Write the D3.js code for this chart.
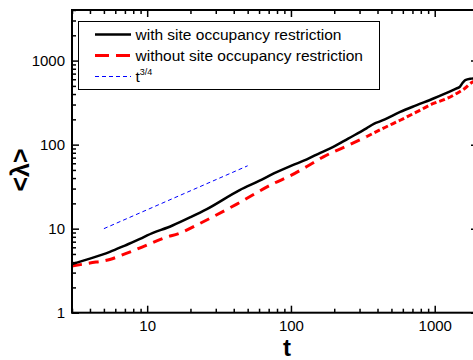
<!DOCTYPE html>
<html>
<head>
<meta charset="utf-8">
<style>
    body { margin: 0; background: #fff; }
    svg { display: block; font-family: Arial, 'Liberation Sans', sans-serif; }
    .tick text { font-size: 15px; fill: #000; }
    .legend text { font-size: 15.5px; }
</style>
</head>
<body>
<svg width="473" height="360"></svg>
<script src="https://d3js.org/d3.v7.min.js"></script>
<script>
    // with site occupancy restriction (solid black)
    let tWith   = [3, 4, 5.5, 7, 9, 10, 15, 20, 26, 44, 60, 76, 100, 129, 160, 197, 250, 335, 380, 420, 450, 575, 750, 980, 1200, 1420, 1500, 1560, 1630, 1800, 2000];
    let lamWith = [3.8, 4.4, 5.3, 6.3, 7.6, 8.3, 10.9, 13.7, 17.1, 28.8, 37, 45.4, 56, 66.7, 80, 94, 118, 156, 178, 190, 200, 245, 295, 354, 410, 466, 490, 540, 585, 610, 620];

    // without site occupancy restriction (red dashed), early and late part
    let tWithout   = [3, 4, 5.5, 7, 10, 13, 17, 23.4, 42, 76, 100, 129, 168, 250, 335];
    let lamWithout = [3.6, 3.9, 4.3, 5.0, 6.4, 7.7, 8.9, 11.6, 19.6, 34.6, 43, 55, 71.6, 98, 124];
    let tWithoutLate   = [335, 450, 575, 750, 980, 1200, 1420, 1600, 1840, 2000];
    let lamWithoutLate = [124, 160, 195, 245, 309, 350, 406, 460, 558, 580];

    // t^{3/4} guide
    let tGuide   = [5, 50];
    let lamGuide = [10, 56];

    let xMajor = [10, 100, 1000];
    let yMajor = [1, 10, 100, 1000];

    let mLeft = 72, mRight = 478, mTop = 10, mBottom = 312.7;

    let svg = d3.select("svg");

    let x = d3.scaleLog().domain([3, 2000]).range([mLeft, mRight]);
    let y = d3.scaleLog().domain([1, 4000]).range([mBottom, mTop]);

    // minor ticks (2..9 of each decade)
    let xMinor = x.ticks().filter(v => xMajor.indexOf(v) < 0);
    let yMinor = y.ticks().filter(v => yMajor.indexOf(v) < 0);

    let line = d3.line().x(d => x(d[0])).y(d => y(d[1])).curve(d3.curveMonotoneX);

    let plot = svg.append("g");

    plot.append("path")
        .attr("d", line(tGuide.map((t, i) => [t, lamGuide[i]])))
        .style("fill", "none")
        .style("stroke", "#0000ff")
        .style("stroke-width", 1)
        .style("stroke-dasharray", "4,3")

    plot.append("path")
        .attr("d", line(tWithout.map((t, i) => [t, lamWithout[i]])))
        .style("fill", "none")
        .style("stroke", "#ff0000")
        .style("stroke-width", 3)
        .style("stroke-dasharray", "10,7")

    // dense data at late times -> dashes run together
    plot.append("path")
        .attr("d", line(tWithoutLate.map((t, i) => [t, lamWithoutLate[i]])))
        .style("fill", "none")
        .style("stroke", "#ff0000")
        .style("stroke-width", 3)
        .style("stroke-dasharray", "6,3")

    plot.append("path")
        .attr("d", line(tWith.map((t, i) => [t, lamWith[i]])))
        .style("fill", "none")
        .style("stroke", "#000")
        .style("stroke-width", 2.5)

    // axes, ticks pointing inward
    function styleAxis(g) {
        g.select(".domain").remove();
        g.selectAll(".tick line").style("stroke", "#000").style("stroke-width", 1.5);
    }

    svg.append("g").attr("transform", `translate(0,${mBottom})`)
        .call(d3.axisBottom(x).tickValues(xMajor).tickSize(-7).tickFormat(d3.format("d")))
        .call(styleAxis)
        .selectAll("text").attr("y", 8).attr("dy", "0.71em");
    svg.append("g").attr("transform", `translate(0,${mBottom})`)
        .call(d3.axisBottom(x).tickValues(xMinor).tickSize(-4).tickFormat(""))
        .call(styleAxis);
    svg.append("g").attr("transform", `translate(0,${mTop})`)
        .call(d3.axisTop(x).tickValues(xMajor).tickSize(-7).tickFormat(""))
        .call(styleAxis);
    svg.append("g").attr("transform", `translate(0,${mTop})`)
        .call(d3.axisTop(x).tickValues(xMinor).tickSize(-4).tickFormat(""))
        .call(styleAxis);

    svg.append("g").attr("transform", `translate(${mLeft},0)`)
        .call(d3.axisLeft(y).tickValues(yMajor).tickSize(-7).tickFormat(d3.format("d")))
        .call(styleAxis)
        .selectAll("text").attr("x", -7);
    svg.append("g").attr("transform", `translate(${mLeft},0)`)
        .call(d3.axisLeft(y).tickValues(yMinor).tickSize(-4).tickFormat(""))
        .call(styleAxis);
    svg.append("g").attr("transform", `translate(${mRight},0)`)
        .call(d3.axisRight(y).tickValues(yMajor).tickSize(-7).tickFormat(""))
        .call(styleAxis);
    svg.append("g").attr("transform", `translate(${mRight},0)`)
        .call(d3.axisRight(y).tickValues(yMinor).tickSize(-4).tickFormat(""))
        .call(styleAxis);

    // frame
    svg.append("rect")
        .attr("x", mLeft).attr("y", mTop)
        .attr("width", mRight - mLeft).attr("height", mBottom - mTop)
        .style("fill", "none")
        .style("stroke", "#000")
        .style("stroke-width", 2)

    // axis titles
    svg.append("text")
        .attr("x", 287).attr("y", 356)
        .attr("text-anchor", "middle")
        .style("font-size", "24px").style("font-weight", "bold")
        .text("t")

    svg.append("text")
        .attr("transform", "translate(29,170) rotate(-90)")
        .attr("text-anchor", "middle")
        .style("font-size", "25px").style("font-weight", "bold")
        .text("<λ>")

    // legend
    let legend = svg.append("g").attr("class", "legend");
    legend.append("rect")
        .attr("x", 78.5).attr("y", 21.5).attr("width", 301).attr("height", 68)
        .style("fill", "#fff").style("stroke", "#000").style("stroke-width", 1)

    let items = [
        { label: "with site occupancy restriction", color: "#000", w: 2.5, dash: null },
        { label: "without site occupancy restriction", color: "#ff0000", w: 3, dash: "14,7" },
        { label: "t", color: "#0000ff", w: 1, dash: "4,3" }
    ];
    items.forEach((it, i) => {
        let yy = 34.5 + i * 21;
        legend.append("line")
            .attr("x1", 95).attr("x2", 131).attr("y1", yy).attr("y2", yy)
            .style("stroke", it.color).style("stroke-width", it.w)
            .style("stroke-dasharray", it.dash)
        let txt = legend.append("text")
            .attr("x", 135.5).attr("y", yy + 5)
            .text(it.label)
        if (i == 2) {
            txt.append("tspan").attr("dy", -7).style("font-size", "9px").text("3/4")
        }
    });
</script>
</body>
</html>
